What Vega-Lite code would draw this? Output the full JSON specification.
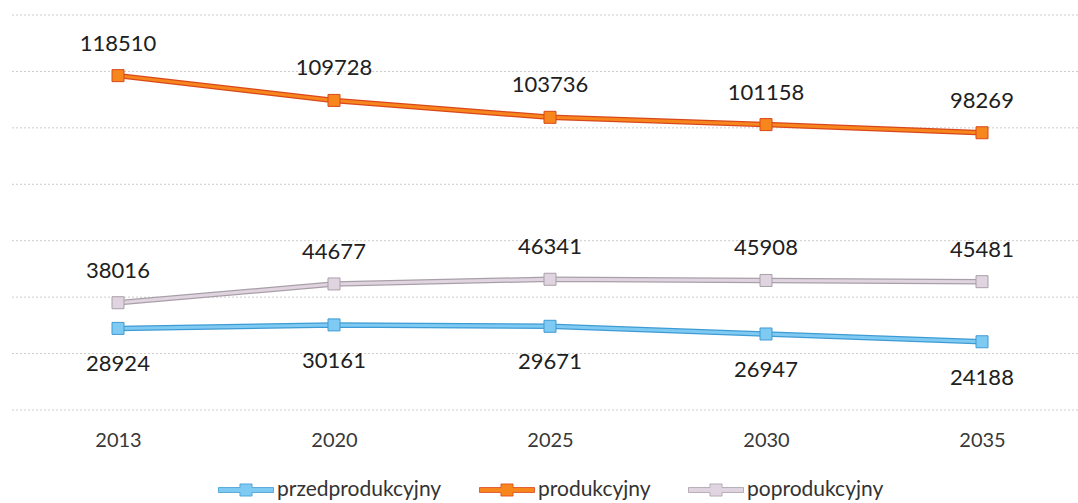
{
  "$schema": "https://vega.github.io/schema/vega-lite/v6.json",
  "width": 1068,
  "height": 395,
  "autosize": {"type": "none"},
  "padding": {"left": 10, "top": 15, "right": 0, "bottom": 93},
  "background": "white",
  "datasets": {
    "pop": [
      {"year": "2013", "series": "przedprodukcyjny", "value": 28924},
      {"year": "2020", "series": "przedprodukcyjny", "value": 30161},
      {"year": "2025", "series": "przedprodukcyjny", "value": 29671},
      {"year": "2030", "series": "przedprodukcyjny", "value": 26947},
      {"year": "2035", "series": "przedprodukcyjny", "value": 24188},
      {"year": "2013", "series": "produkcyjny", "value": 118510},
      {"year": "2020", "series": "produkcyjny", "value": 109728},
      {"year": "2025", "series": "produkcyjny", "value": 103736},
      {"year": "2030", "series": "produkcyjny", "value": 101158},
      {"year": "2035", "series": "produkcyjny", "value": 98269},
      {"year": "2013", "series": "poprodukcyjny", "value": 38016},
      {"year": "2020", "series": "poprodukcyjny", "value": 44677},
      {"year": "2025", "series": "poprodukcyjny", "value": 46341},
      {"year": "2030", "series": "poprodukcyjny", "value": 45908},
      {"year": "2035", "series": "poprodukcyjny", "value": 45481}
    ],
    "grid": [
      {"value": 0}, {"value": 20000}, {"value": 40000}, {"value": 60000},
      {"value": 80000}, {"value": 100000}, {"value": 120000}, {"value": 140000}
    ]
  },
  "layer": [
    {
      "data": {"name": "grid"},
      "mark": {"type": "rule", "color": "#cccccc", "strokeWidth": 1, "strokeDash": [2, 2]},
      "encoding": {
        "y": {
          "field": "value",
          "type": "quantitative",
          "scale": {"domain": [0, 140000], "nice": false},
          "axis": null
        }
      }
    },
    {
      "data": {"name": "pop"},
      "encoding": {
        "x": {
          "field": "year",
          "type": "ordinal",
          "scale": {"type": "point", "padding": 0, "range": [108, 972]},
          "axis": {
            "title": null,
            "domain": false,
            "ticks": false,
            "grid": false,
            "labelAngle": 0,
            "labelFont": "Lato",
            "labelFontSize": 20,
            "labelColor": "#383838",
            "labelPadding": 20
          }
        },
        "y": {"field": "value", "type": "quantitative"}
      },
      "layer": [
        {
          "mark": {"type": "line", "strokeWidth": 5.5},
          "encoding": {
            "stroke": {
              "field": "series",
              "type": "nominal",
              "scale": {
                "domain": ["przedprodukcyjny", "produkcyjny", "poprodukcyjny"],
                "range": ["#3f9bd4", "#d9481c", "#a8a0a8"]
              }
            }
          }
        },
        {
          "mark": {"type": "line", "strokeWidth": 3},
          "encoding": {
            "color": {
              "field": "series",
              "type": "nominal",
              "scale": {
                "domain": ["przedprodukcyjny", "produkcyjny", "poprodukcyjny"],
                "range": ["#7ecaf2", "#f7861c", "#e0d4e0"]
              }
            }
          }
        },
        {
          "mark": {"type": "point", "shape": "square", "filled": true, "size": 144, "strokeWidth": 1, "opacity": 1},
          "encoding": {
            "color": {"field": "series", "type": "nominal"},
            "stroke": {"field": "series", "type": "nominal"}
          }
        },
        {
          "transform": [{"filter": "datum.series !== 'przedprodukcyjny'"}],
          "mark": {"type": "text", "dy": -32, "fontSize": 22, "font": "Lato", "color": "#202020", "baseline": "middle"},
          "encoding": {"text": {"field": "value", "type": "quantitative", "format": "d"}}
        },
        {
          "transform": [{"filter": "datum.series === 'przedprodukcyjny'"}],
          "mark": {"type": "text", "dy": 36, "fontSize": 22, "font": "Lato", "color": "#202020", "baseline": "middle"},
          "encoding": {"text": {"field": "value", "type": "quantitative", "format": "d"}}
        }
      ]
    }
  ],
  "config": {
    "view": {"stroke": null},
    "font": "Lato",
    "legend": {
      "title": null,
      "orient": "none",
      "legendX": 208,
      "legendY": 447,
      "direction": "horizontal",
      "symbolType": "M-1,-0.09H-0.22V-0.22H0.22V-0.09H1V0.09H0.22V0.22H-0.22V0.09H-1Z",
      "symbolSize": 3025,
      "symbolStrokeWidth": 0.8,
      "labelFont": "Lato",
      "labelFontSize": 21,
      "labelColor": "#333333",
      "labelOffset": 3,
      "labelLimit": 0,
      "columnPadding": 35
    }
  }
}
